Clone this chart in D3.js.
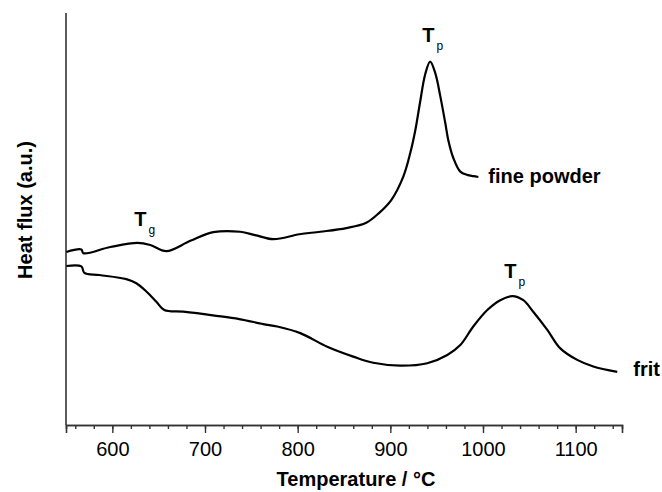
<!DOCTYPE html>
<html>
<head>
<meta charset="utf-8">
<script src="https://cdn.jsdelivr.net/npm/d3@7"></script>
<style>
  body { margin: 0; background: #fff; }
  text { font-family: "Liberation Sans", Arial, Helvetica, sans-serif; fill: #000; }
</style>
</head>
<body>
<div id="chart"></div>
<script>
// DSC traces (temperature in °C, heat flux in a.u.)
var powderT = [550.4, 566.6, 568.7, 597.8, 627, 641, 658.3, 684.2, 709, 738, 754, 773.7, 801.8, 824.4,
    852.5, 874, 888, 901, 914, 921.5, 927, 932, 937.7, 943, 948.5, 954, 959.3, 962.5, 968, 975.5, 983, 989.5, 995];
var powderV = [42.0, 42.6, 41.7, 43.2, 44.2, 43.7, 42.2, 44.7, 46.8, 46.9, 46.1, 45.1, 46.3, 46.9,
    47.8, 49.1, 51.5, 54.6, 60.3, 66.0, 71.6, 78.2, 85.2, 88.2, 85.4, 79.7, 73.3, 69.2, 64.8, 61.5, 60.7, 60.4, 60.2];

var fritT = [550.4, 566.6, 569.8, 586.0, 615.1, 625.9, 636.7, 647.5, 656.1, 676.6, 712.2, 737.0, 762.9, 778.0,
    802.8, 831.9, 860.0, 881.6, 910.7, 939.9, 961.5, 975.5, 989.5, 1004.6, 1018.6, 1031.6, 1043.5, 1054.2,
    1069.4, 1083.4, 1101.7, 1119.0, 1144.9];
var fritV = [38.6, 38.5, 36.9, 36.4, 35.4, 34.4, 32.4, 29.9, 27.9, 27.5, 26.5, 25.7, 24.5, 23.9,
    22.3, 19.0, 16.6, 15.1, 14.4, 15.0, 17.0, 19.4, 23.9, 27.9, 30.3, 31.3, 30.3, 27.5,
    23.1, 18.6, 15.8, 14.2, 12.9];

var seriesNames = ["fine powder", "frit"];
var majorTicks = [600, 700, 800, 900, 1000, 1100];
var minorTicks = d3.range(560, 1141, 20);

// annotations: main letter, subscript, anchor temperature and value
var annoMain = ["T", "T", "T"];
var annoSub = ["g", "p", "p"];
var annoT = [627, 943, 1031.6];
var annoV = [44.2, 88.2, 31.3];

var width = 662, height = 492;
var svg = d3.select("#chart").append("svg")
    .attr("width", width)
    .attr("height", height);

var x = d3.scaleLinear().domain([550, 1150]).range([66, 622]);
var y = d3.scaleLinear().domain([0, 100]).range([425, 13]);

var axisColor = "#333";

// x axis, major and minor ticks
var gx = svg.append("g").attr("transform", "translate(0," + y(0) + ")");
gx.call(d3.axisBottom(x).tickValues(minorTicks).tickSize(4).tickFormat(""));
gx.append("g").call(d3.axisBottom(x).tickValues(majorTicks).tickSize(8).tickPadding(9)
    .tickFormat(d3.format("d")));
gx.selectAll(".domain").attr("stroke", axisColor).attr("stroke-width", 1.6);
gx.selectAll(".tick line").attr("stroke", axisColor).attr("stroke-width", 1.4);
gx.selectAll(".tick text")
    .attr("fill", "#111")
    .style("font-size", "20px")
    .style("font-family", "'Liberation Sans', Arial, sans-serif");

// y axis: plain line, no ticks
svg.append("line")
    .attr("x1", x(550)).attr("x2", x(550))
    .attr("y1", y(100)).attr("y2", y(0))
    .attr("stroke", axisColor)
    .attr("stroke-width", 1.6);

var line = d3.line()
    .x(function (d) { return x(d[0]); })
    .y(function (d) { return y(d[1]); })
    .curve(d3.curveCatmullRom.alpha(0.5));

var traces = [d3.zip(powderT, powderV), d3.zip(fritT, fritV)];

svg.selectAll(".trace")
    .data(traces)
    .enter()
    .append("path")
    .attr("class", "trace")
    .attr("d", line)
    .attr("fill", "none")
    .attr("stroke", "#000")
    .attr("stroke-width", 2.2)
    .attr("stroke-linejoin", "round");

// labels at the end of each trace
var endOffsets = [[10, 6], [16, 4]];
svg.selectAll(".series-label")
    .data(traces)
    .enter()
    .append("text")
    .attr("class", "series-label")
    .attr("x", function (d, i) { return x(d[d.length - 1][0]) + endOffsets[i][0]; })
    .attr("y", function (d, i) { return y(d[d.length - 1][1]) + endOffsets[i][1]; })
    .style("font-size", "20px")
    .style("font-weight", "bold")
    .text(function (d, i) { return seriesNames[i]; });

// T_g / T_p annotations
var annoOffsets = [[-3, -17], [-8, -20], [-8, -18]];
var anno = svg.selectAll(".anno")
    .data(annoMain)
    .enter()
    .append("text")
    .attr("class", "anno")
    .attr("x", function (d, i) { return x(annoT[i]) + annoOffsets[i][0]; })
    .attr("y", function (d, i) { return y(annoV[i]) + annoOffsets[i][1]; })
    .style("font-size", "20px")
    .style("font-weight", "bold");
anno.append("tspan").text(function (d) { return d; });
anno.append("tspan")
    .attr("dx", 2)
    .attr("dy", 8)
    .style("font-size", "12px")
    .style("font-weight", "normal")
    .text(function (d, i) { return annoSub[i]; });

// axis titles
svg.append("text")
    .attr("x", 356)
    .attr("y", 486)
    .attr("text-anchor", "middle")
    .style("font-size", "20px")
    .style("font-weight", "bold")
    .text("Temperature / °C");

svg.append("text")
    .attr("transform", "rotate(-90)")
    .attr("x", -210)
    .attr("y", 32)
    .attr("text-anchor", "middle")
    .style("font-size", "20px")
    .style("font-weight", "bold")
    .text("Heat flux (a.u.)");
</script>
</body>
</html>
